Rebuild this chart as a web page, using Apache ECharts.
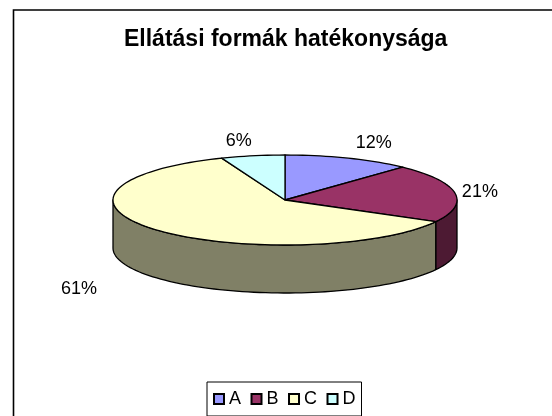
<!DOCTYPE html>
<html><head><meta charset="utf-8">
<style>html,body{margin:0;padding:0;background:#fff}#c{width:552px;height:416px}</style>
<script src="https://cdn.jsdelivr.net/npm/echarts@6/dist/echarts.min.js"></script>
</head><body><div id="c"></div>
<script>
const titleText = 'Ellátási formák hatékonysága';
const categories = ['A', 'B', 'C', 'D'];
const values = [12, 21, 61, 6];
const topColors = ['#9999FF', '#993366', '#FFFFCC', '#CCFFFF'];
const sideColors = ['#4D4D80', '#4D1A33', '#808066', '#668080'];
const labelOffsets = [[25.5, -15], [25, -1], [-77, 59], [-14, -15]];
const CX = 285, CY = 200, RX = 172, RY = 45, DEPTH = 48;
const FONT = '"Liberation Sans", Arial, sans-serif';
const total = values.reduce((a, b) => a + b, 0);
const pt = (deg, dy) => {
  const r = deg * Math.PI / 180;
  return [CX + RX * Math.sin(r), CY - RY * Math.cos(r) + (dy || 0)];
};
const arc = (a, b, dy) => {
  const out = [], n = Math.max(2, Math.ceil(Math.abs(b - a) / 2));
  for (let i = 0; i <= n; i++) out.push(pt(a + (b - a) * i / n, dy));
  return out;
};
const lineStyle = { stroke: '#000', lineWidth: 1.3, lineJoin: 'round' };
function makeSeries(i) {
  const before = values.slice(0, i).reduce((a, b) => a + b, 0);
  return {
    type: 'custom', name: categories[i], coordinateSystem: 'none', silent: true,
    itemStyle: { color: topColors[i], borderColor: '#000', borderWidth: 1 },
    data: [values[i]],
    z: 2,
    renderItem: (params, api) => {
      const v = api.value(0);
      const a = before / total * 360, b = a + v / total * 360, mid = (a + b) / 2;
      const kids = [];
      const wa = Math.max(a, 90), wb = Math.min(b, 270);
      if (wb > wa) {
        kids.push({ type: 'polygon', shape: { points: arc(wa, wb, 0).concat(arc(wb, wa, DEPTH)) },
          style: Object.assign({ fill: sideColors[i] }, lineStyle) });
      }
      kids.push({ type: 'polygon', shape: { points: [[CX, CY]].concat(arc(a, b, 0)) },
        style: Object.assign({ fill: topColors[i] }, lineStyle) });
      const lp = pt(mid, 0);
      kids.push({ type: 'text', style: { x: lp[0] + labelOffsets[i][0], y: lp[1] + labelOffsets[i][1],
        text: v + '%', fill: '#000', font: '18px ' + FONT, align: 'center', verticalAlign: 'middle' } });
      return { type: 'group', children: kids };
    }
  };
}
const chart = echarts.init(document.getElementById('c'), null, { renderer: 'canvas' });
chart.setOption({
  animation: false,
  backgroundColor: '#fff',
  title: { text: titleText, left: 124, top: 28, padding: 0,
    textStyle: { color: '#000', fontFamily: FONT, fontWeight: 'bold', fontSize: 23 } },
  legend: { data: categories, left: 207, top: 382, orient: 'horizontal', padding: [8, 6, 8, 6], itemGap: 9.5,
    itemWidth: 10, itemHeight: 10, icon: 'rect', borderColor: '#000', borderWidth: 1, backgroundColor: '#fff',
    selectedMode: false,
    textStyle: { color: '#000', fontFamily: FONT, fontSize: 18 } },
  graphic: [{ type: 'rect', z: -1, silent: true, shape: { x: 13.5, y: 10, width: 600, height: 500 },
    style: { fill: 'none', stroke: '#000', lineWidth: 1.6 } }],
  series: categories.map((c, i) => makeSeries(i))
});
</script></body></html>
